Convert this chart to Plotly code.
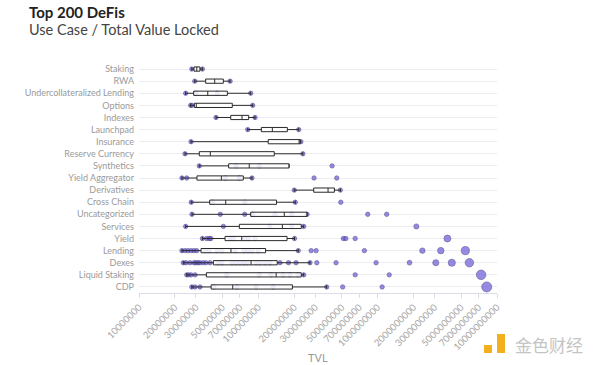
import plotly.graph_objects as go

# ---------------- data ----------------
categories = ["Staking", "RWA", "Undercollateralized Lending", "Options", "Indexes",
              "Launchpad", "Insurance", "Reserve Currency", "Synthetics",
              "Yield Aggregator", "Derivatives", "Cross Chain", "Uncategorized",
              "Services", "Yield", "Lending", "Dexes", "Liquid Staking", "CDP"]

lower_fence = [2.77e7, 2.93e7, 2.46e7, 2.71e7, 4.42e7, 8.15e7, 2.73e7, 2.43e7, 3.20e7, 2.29e7,
               2.00e8, 2.74e7, 2.78e7, 2.46e7, 3.40e7, 2.29e7, 2.35e7, 2.51e7, 2.77e7]
q1 = [2.89e7, 3.62e7, 2.87e7, 2.91e7, 5.87e7, 1.06e8, 1.21e8, 3.20e7, 5.64e7, 3.06e7,
      2.91e8, 3.91e7, 8.63e7, 6.93e7, 5.26e7, 3.31e7, 4.20e7, 3.67e7, 4.02e7]
median = [3.05e7, 4.31e7, 3.77e7, 3.02e7, 7.30e7, 1.31e8, 2.21e8, 3.96e7, 8.39e7, 4.90e7,
          3.84e8, 5.33e7, 1.65e8, 1.59e8, 7.26e7, 5.90e7, 8.69e7, 1.41e8, 6.10e7]
q3 = [3.24e7, 5.09e7, 5.50e7, 6.05e7, 8.30e7, 1.75e8, 2.24e8, 1.36e8, 1.81e8, 7.48e7,
      4.34e8, 1.42e8, 2.56e8, 2.29e8, 1.74e8, 1.15e8, 1.44e8, 2.29e8, 1.93e8]
upper_fence = [3.40e7, 5.80e7, 8.63e7, 8.97e7, 9.38e7, 2.18e8, 2.27e8, 2.36e8, 1.81e8, 8.85e7,
               4.87e8, 2.04e8, 2.56e8, 2.40e8, 2.01e8, 2.16e8, 2.71e8, 2.40e8, 3.74e8]

# individual protocols (category, TVL)
point_category = (
    ["Staking"] * 2 + ["RWA"] * 2 + ["Undercollateralized Lending"] * 4 + ["Options"] * 3 +
    ["Indexes"] * 2 + ["Launchpad"] * 2 + ["Insurance"] * 2 + ["Reserve Currency"] * 2 +
    ["Synthetics"] * 4 + ["Yield Aggregator"] * 7 + ["Derivatives"] * 2 + ["Cross Chain"] * 5 +
    ["Uncategorized"] * 9 + ["Services"] * 6 + ["Yield"] * 14 + ["Lending"] * 22 +
    ["Dexes"] * 32 + ["Liquid Staking"] * 14 + ["CDP"] * 11
)
point_tvl = [
    2.77e7, 3.40e7,
    2.93e7, 5.80e7,
    2.46e7, 3.01e7, 4.51e7, 8.63e7,
    2.71e7, 2.78e7, 8.97e7,
    4.42e7, 9.38e7,
    8.15e7, 2.18e8,
    2.73e7, 2.27e8,
    2.43e7, 2.36e8,
    3.20e7, 6.50e7, 1.02e8, 4.15e8,
    2.29e7, 2.51e7, 5.29e7, 6.93e7, 8.85e7, 2.93e8, 4.54e8,
    2.00e8, 4.87e8,
    2.74e7, 4.15e7, 7.69e7, 2.04e8, 4.91e8,
    2.78e7, 4.80e7, 7.69e7, 8.98e7, 1.38e8, 1.90e8, 2.56e8, 8.26e8, 1.19e9,
    2.46e7, 5.09e7, 1.25e8, 1.90e8, 2.40e8, 2.11e9,
    3.40e7, 3.69e7, 3.89e7, 4.00e7, 5.80e7, 6.17e7, 7.73e7, 8.24e7, 9.38e7, 2.01e8,
    5.16e8, 5.41e8, 6.48e8, 3.84e9,
    2.29e7, 2.43e7, 2.57e7, 2.73e7, 2.89e7, 3.05e7, 3.58e7, 3.87e7, 4.51e7, 4.96e7,
    6.38e7, 7.59e7, 8.20e7, 8.85e7, 9.94e7, 2.16e8, 2.77e8, 3.05e8, 7.74e8, 2.37e9,
    3.38e9, 5.43e9,
    2.35e7, 2.48e7, 2.68e7, 2.89e7, 3.00e7, 3.12e7, 3.24e7, 3.44e7, 3.64e7, 3.94e7,
    4.59e7, 4.96e7, 6.00e7, 6.50e7, 7.02e7, 7.59e7, 8.03e7, 9.58e7, 1.03e8, 1.14e8,
    1.25e8, 1.52e8, 1.79e8, 2.07e8, 2.71e8, 3.09e8, 4.48e8, 9.70e8, 1.85e9, 3.07e9,
    4.18e9, 5.87e9,
    2.51e7, 2.61e7, 2.73e7, 2.95e7, 5.43e7, 1.02e8, 1.28e8, 1.61e8, 1.84e8, 2.15e8,
    2.40e8, 6.48e8, 1.25e9, 7.36e9,
    2.77e7, 2.95e7, 3.24e7, 4.25e7, 6.63e7, 9.58e7, 1.33e8, 3.74e8, 5.09e8, 1.09e9,
    8.20e9,
]

tick_values = [1e7, 2e7, 3e7, 5e7, 7e7, 1e8, 2e8, 3e8, 5e8, 7e8,
               1e9, 2e9, 3e9, 5e9, 7e9, 1e10]
tick_labels = ["10000000", "20000000", "30000000", "50000000", "70000000",
               "100000000", "200000000", "300000000", "500000000", "700000000",
               "1000000000", "2000000000", "3000000000", "5000000000", "7000000000",
               "10000000000"]

# ---------------- figure ----------------
FONT = "Lato"
order_bottom_up = categories[::-1]
max_size = 10

fig = go.Figure()

fig.add_trace(go.Scatter(
    x=point_tvl, y=point_category, mode="markers",
    marker=dict(size=point_tvl, sizemode="area",
                sizeref=2.0 * max(point_tvl) / (max_size ** 2), sizemin=2.2,
                color="#6a5ad8", line=dict(color="#2e2a78", width=0.7)),
    showlegend=False, hoverinfo="x+y",
))

fig.add_trace(go.Box(
    y=categories, q1=q1, median=median, q3=q3,
    lowerfence=lower_fence, upperfence=upper_fence,
    orientation="h", boxpoints=False,
    fillcolor="rgba(255,255,255,0.85)",
    line=dict(color="#2a2a2a", width=1),
    whiskerwidth=0.8,
    xaxis="x2", yaxis="y2", showlegend=False,
))

xrange = [7, 10]
yrange = [-0.5, len(categories) - 0.5]

fig.update_layout(
    width=600, height=365,
    margin=dict(l=139, r=103, t=63, b=72, autoexpand=False),
    paper_bgcolor="white", plot_bgcolor="white",
    font=dict(family=FONT, color="#999999"),
    boxgap=0.5,
    xaxis=dict(type="log", range=xrange, tickvals=tick_values, ticktext=tick_labels,
               tickangle=-45, tickfont=dict(size=9.5, color="#a6a6a6"),
               showgrid=False, zeroline=False, showline=True, linecolor="#dcdce6",
               ticks="outside", ticklen=4, tickcolor="#dcdce6", automargin=False),
    yaxis=dict(type="category", categoryorder="array", categoryarray=order_bottom_up,
               range=yrange, showgrid=True, gridcolor="#ececf3", gridwidth=1,
               tickfont=dict(size=9, color="#9a9a9a"), ticks="",
               ticklabelstandoff=4, zeroline=False, automargin=False),
    xaxis2=dict(type="log", range=xrange, overlaying="x", visible=False, automargin=False),
    yaxis2=dict(type="category", categoryorder="array", categoryarray=order_bottom_up,
                range=yrange, overlaying="y", visible=False, automargin=False),
)

fig.add_annotation(text="<b>Top 200 DeFis</b>", xref="paper", yref="paper",
                   x=(27 - 139) / 358, y=(293 - 12) / 230, xanchor="left", yanchor="middle",
                   showarrow=False, font=dict(family=FONT, size=15, color="#222222"))
fig.add_annotation(text="Use Case / Total Value Locked", xref="paper", yref="paper",
                   x=(27 - 139) / 358, y=(293 - 30) / 230, xanchor="left", yanchor="middle",
                   showarrow=False, font=dict(family=FONT, size=14.5, color="#444444"))
fig.add_annotation(text="TVL", xref="paper", yref="paper", x=0.5, y=(293 - 357) / 230,
                   xanchor="center", yanchor="middle", showarrow=False,
                   font=dict(family=FONT, size=11, color="#9a9a9a"))

# watermark
fig.add_annotation(text="金色财经", xref="paper", yref="paper",
                   x=(513 - 139) / 358, y=(293 - 344) / 230, xanchor="left", yanchor="middle",
                   showarrow=False,
                   font=dict(family="Noto Sans CJK SC", size=17, color="#c4c4c4"))
fig.add_shape(type="rect", xref="paper", yref="paper",
              x0=(484 - 139) / 358, x1=(492 - 139) / 358,
              y0=(293 - 353) / 230, y1=(293 - 345) / 230,
              fillcolor="#f2b01e", line=dict(width=0))
fig.add_shape(type="rect", xref="paper", yref="paper",
              x0=(497 - 139) / 358, x1=(505 - 139) / 358,
              y0=(293 - 353) / 230, y1=(293 - 334) / 230,
              fillcolor="#f2b01e", line=dict(width=0))

# remove the default 8px page margin so the figure fills the window exactly
fig.write_html("out.html", config={"displayModeBar": False},
               post_script="document.body.style.margin='0';")
